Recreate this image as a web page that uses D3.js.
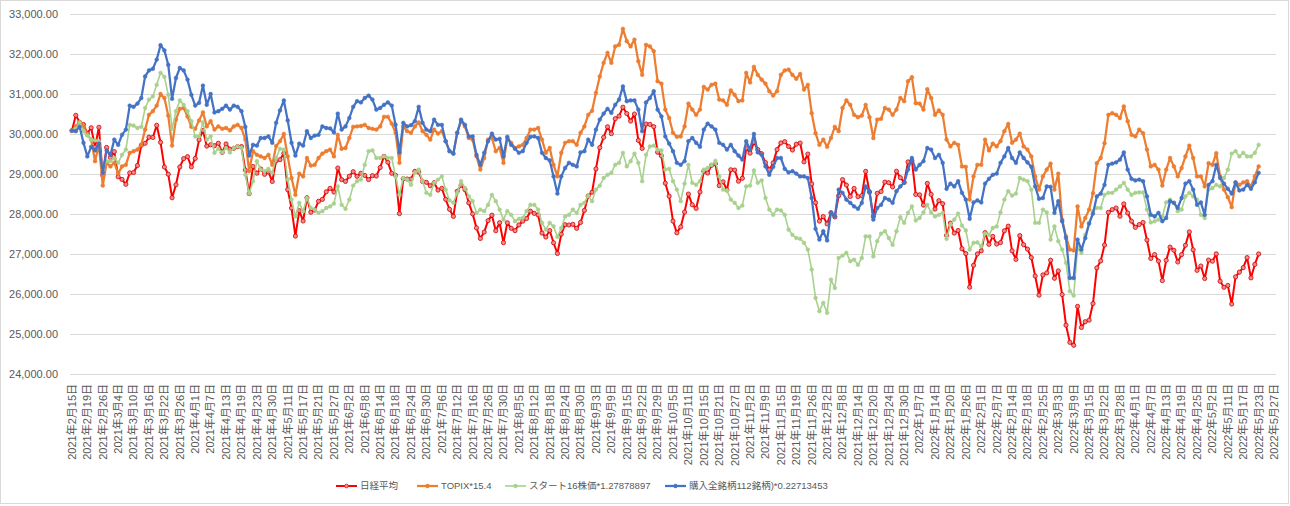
<!DOCTYPE html>
<html><head><meta charset="utf-8">
<script src="https://cdn.jsdelivr.net/npm/d3@7"></script>
<style>body{margin:0;background:#fff}svg{display:block}</style>
</head><body>
<svg id="c" width="1290" height="506"></svg>
<script>
// trading days (category axis)
const categories = [
"2021/2/15","2021/2/16","2021/2/17","2021/2/18","2021/2/19","2021/2/22","2021/2/24","2021/2/25","2021/2/26",
"2021/3/1","2021/3/2","2021/3/3","2021/3/4","2021/3/5","2021/3/8","2021/3/9","2021/3/10","2021/3/11","2021/3/12","2021/3/15","2021/3/16","2021/3/17","2021/3/18","2021/3/19","2021/3/22","2021/3/23","2021/3/24","2021/3/25","2021/3/26","2021/3/29","2021/3/30","2021/3/31",
"2021/4/1","2021/4/2","2021/4/5","2021/4/6","2021/4/7","2021/4/8","2021/4/9","2021/4/12","2021/4/13","2021/4/14","2021/4/15","2021/4/16","2021/4/19","2021/4/20","2021/4/21","2021/4/22","2021/4/23","2021/4/26","2021/4/27","2021/4/28","2021/4/30",
"2021/5/6","2021/5/7","2021/5/10","2021/5/11","2021/5/12","2021/5/13","2021/5/14","2021/5/17","2021/5/18","2021/5/19","2021/5/20","2021/5/21","2021/5/24","2021/5/25","2021/5/26","2021/5/27","2021/5/28","2021/5/31",
"2021/6/1","2021/6/2","2021/6/3","2021/6/4","2021/6/7","2021/6/8","2021/6/9","2021/6/10","2021/6/11","2021/6/14","2021/6/15","2021/6/16","2021/6/17","2021/6/18","2021/6/21","2021/6/22","2021/6/23","2021/6/24","2021/6/25","2021/6/28","2021/6/29","2021/6/30",
"2021/7/1","2021/7/2","2021/7/5","2021/7/6","2021/7/7","2021/7/8","2021/7/9","2021/7/12","2021/7/13","2021/7/14","2021/7/15","2021/7/16","2021/7/19","2021/7/20","2021/7/21","2021/7/26","2021/7/27","2021/7/28","2021/7/29","2021/7/30",
"2021/8/2","2021/8/3","2021/8/4","2021/8/5","2021/8/6","2021/8/10","2021/8/11","2021/8/12","2021/8/13","2021/8/16","2021/8/17","2021/8/18","2021/8/19","2021/8/20","2021/8/23","2021/8/24","2021/8/25","2021/8/26","2021/8/27","2021/8/30","2021/8/31",
"2021/9/1","2021/9/2","2021/9/3","2021/9/6","2021/9/7","2021/9/8","2021/9/9","2021/9/10","2021/9/13","2021/9/14","2021/9/15","2021/9/16","2021/9/17","2021/9/21","2021/9/22","2021/9/24","2021/9/27","2021/9/28","2021/9/29","2021/9/30",
"2021/10/1","2021/10/4","2021/10/5","2021/10/6","2021/10/7","2021/10/8","2021/10/11","2021/10/12","2021/10/13","2021/10/14","2021/10/15","2021/10/18","2021/10/19","2021/10/20","2021/10/21","2021/10/22","2021/10/25","2021/10/26","2021/10/27","2021/10/28","2021/10/29",
"2021/11/1","2021/11/2","2021/11/4","2021/11/5","2021/11/8","2021/11/9","2021/11/10","2021/11/11","2021/11/12","2021/11/15","2021/11/16","2021/11/17","2021/11/18","2021/11/19","2021/11/22","2021/11/24","2021/11/25","2021/11/26","2021/11/29","2021/11/30",
"2021/12/1","2021/12/2","2021/12/3","2021/12/6","2021/12/7","2021/12/8","2021/12/9","2021/12/10","2021/12/13","2021/12/14","2021/12/15","2021/12/16","2021/12/17","2021/12/20","2021/12/21","2021/12/22","2021/12/23","2021/12/24","2021/12/27","2021/12/28","2021/12/29","2021/12/30",
"2022/1/4","2022/1/5","2022/1/6","2022/1/7","2022/1/11","2022/1/12","2022/1/13","2022/1/14","2022/1/17","2022/1/18","2022/1/19","2022/1/20","2022/1/21","2022/1/24","2022/1/25","2022/1/26","2022/1/27","2022/1/28","2022/1/31",
"2022/2/1","2022/2/2","2022/2/3","2022/2/4","2022/2/7","2022/2/8","2022/2/9","2022/2/10","2022/2/14","2022/2/15","2022/2/16","2022/2/17","2022/2/18","2022/2/21","2022/2/22","2022/2/24","2022/2/25","2022/2/28",
"2022/3/1","2022/3/2","2022/3/3","2022/3/4","2022/3/7","2022/3/8","2022/3/9","2022/3/10","2022/3/11","2022/3/14","2022/3/15","2022/3/16","2022/3/17","2022/3/18","2022/3/22","2022/3/23","2022/3/24","2022/3/25","2022/3/28","2022/3/29","2022/3/30","2022/3/31",
"2022/4/1","2022/4/4","2022/4/5","2022/4/6","2022/4/7","2022/4/8","2022/4/11","2022/4/12","2022/4/13","2022/4/14","2022/4/15","2022/4/18","2022/4/19","2022/4/20","2022/4/21","2022/4/22","2022/4/25","2022/4/26","2022/4/27","2022/4/28",
"2022/5/2","2022/5/6","2022/5/9","2022/5/10","2022/5/11","2022/5/12","2022/5/13","2022/5/16","2022/5/17","2022/5/18","2022/5/19","2022/5/20","2022/5/23","2022/5/24","2022/5/25","2022/5/26","2022/5/27"
];

const nikkei = [
30084,30468,30292,30236,30018,30156,29672,30168,28966,
29664,29408,29559,28930,28864,28743,29028,29037,29212,29718,29767,29921,29914,30217,29792,29174,28996,28406,28730,29177,29385,29433,29179,
29389,29854,30089,29697,29731,29709,29768,29539,29752,29621,29643,29683,29685,29100,28509,29188,29021,29126,28992,29054,28813,
29331,29358,29518,28609,28148,27448,28084,27825,28407,28044,28098,28318,28365,28554,28642,28549,29149,28860,
28814,28946,29058,28942,29019,28964,28861,28959,28949,29162,29441,29291,29018,28964,28011,28884,28875,28875,29066,29048,28813,28792,
28707,28783,28598,28643,28367,28118,27940,28569,28718,28608,28279,28003,27653,27388,27548,27833,27970,27582,27782,27284,
27781,27642,27584,27728,27820,27888,28071,28015,27977,27523,27424,27586,27281,27013,27494,27732,27725,27742,27641,27789,28090,
28451,28544,29128,29660,29916,30181,30008,30382,30447,30670,30512,30323,30500,29840,29639,30249,30240,30184,29544,29453,
28771,28445,27822,27529,27678,28049,28498,28231,28140,28551,29069,29025,29216,29256,28709,28805,28600,29106,29098,28820,28893,
29647,29521,29794,29612,29507,29285,29107,29278,29610,29777,29808,29688,29599,29746,29774,29303,29499,28752,28284,27822,
27936,27753,28030,27927,28456,28861,28725,28438,28640,28433,28460,29066,28546,27938,28518,28562,28798,28783,28676,29069,28907,28792,
29302,29332,28488,28479,28222,28766,28489,28124,28334,28257,27467,27773,27522,27588,27131,27011,26170,26717,27002,
27078,27534,27241,27440,27249,27285,27580,27696,27080,26865,27460,27233,27122,26911,26450,25971,26477,26527,
26845,26393,26577,25985,25221,24791,24718,25690,25163,25308,25346,25762,26653,26827,27224,28040,28110,28150,27944,28252,28027,27821,
27666,27736,27788,27350,26889,26986,26822,26335,26843,27172,27093,26800,26985,27218,27553,27105,26591,26700,26387,26848,
26819,27004,26319,26167,26214,25749,26428,26547,26660,26911,26403,26739,27002
];

const topix = [
30080,30190,30290,30190,29980,29860,29320,29730,28710,
29280,29190,29280,29010,29190,29230,29530,29570,29610,29730,30110,30480,30570,30710,31000,30900,30460,29710,30360,30630,30650,30440,30180,
30130,30340,30540,30190,30320,30110,30190,30130,30150,30090,30190,30230,30150,29860,29070,29570,29480,29440,29400,29480,29230,
29700,29820,30000,29440,28900,28480,29010,28940,29400,29210,29230,29400,29510,29570,29610,29440,29980,29630,
29650,29900,30180,30190,30200,30230,30150,30130,30110,30190,30430,30430,30260,30030,29280,30190,30070,30030,30190,30290,30070,29980,
29860,30110,30010,30070,29820,29570,29510,30030,30320,30190,29900,29860,29440,29110,29400,29860,29900,29570,29650,29280,
29900,29780,29650,29690,29730,29900,30110,30110,30150,29860,29530,29650,29230,28940,29530,29780,29820,29820,29730,30030,30190,
30480,30580,31030,31440,31780,32030,31780,32190,32230,32630,32320,32190,32360,31820,31480,32230,32190,32070,31320,31260,
30610,30400,30030,29930,29940,30190,30760,30610,30480,30610,31180,31110,31230,31260,30860,30840,30730,31090,30980,30820,30840,
31530,31290,31680,31480,31360,31260,31070,30960,31070,31480,31590,31610,31480,31380,31500,31110,31230,30520,30020,29730,
29860,29680,29900,30180,30070,30650,30840,30730,30480,30420,30460,30730,30420,29900,30360,30380,30650,30610,30480,30610,30900,30820,
31320,31420,30770,30760,30610,31120,30900,30480,30590,30480,29860,29690,29780,29730,29190,29180,28360,28940,29230,
29230,29860,29590,29760,29690,29820,30070,30250,29780,29860,30010,29690,29610,29440,28940,28610,28940,29110,
29260,28610,29010,27860,27440,27110,27090,28190,27690,27900,28110,28520,29270,29400,29770,30480,30520,30480,30400,30690,30320,29980,
29940,30110,30020,29610,29190,29230,29110,28710,29110,29400,29190,28940,29150,29440,29710,29400,28940,28940,28690,29270,
29230,29520,28940,28610,28420,28170,28790,28730,28790,28820,28690,28940,29190
];

const start16 = [
30084,30130,30290,30070,29960,29860,29840,29820,29110,
29320,29320,29400,29280,29480,29610,30230,30210,30150,30180,30650,30860,30940,31230,31530,31430,30980,30130,30570,30840,30730,30570,30320,
29940,29940,30290,29860,29940,29530,29630,29540,29650,29540,29650,29690,29650,28980,28510,28820,29320,29110,29070,29130,29030,
29400,29630,29610,28860,28360,27940,28280,28070,28400,28150,28110,28030,28070,28150,28190,28260,28690,28230,
28130,28360,28710,28820,28860,29230,29570,29590,29400,29400,29440,29400,29400,28940,28480,28900,28860,28730,29030,29110,28820,28530,
28480,28780,28860,28940,28610,28340,28280,28530,28820,28650,28440,28320,28030,28110,28070,28230,28480,28320,28110,27860,
28070,27980,27820,27880,27900,28070,28230,28230,28110,27780,27610,27780,27690,27430,27650,27940,27980,28110,28030,28230,28280,
28460,28320,28610,28710,28900,28980,29030,29230,29280,29530,29190,29320,29510,29280,28820,29480,29690,29710,29610,29590,
29110,29130,28820,28610,28320,28760,29230,28780,28730,28820,29110,29150,29230,29330,28940,28610,28590,28360,28280,28150,28210,
28690,28710,29090,28780,28840,28400,28110,27980,28110,28090,27980,27610,27480,27400,27380,27280,27110,26610,25900,25570,
25780,25530,26360,26150,26900,26960,27030,26820,26860,26730,26900,27440,27440,26940,27320,27510,27570,27400,27230,27570,27920,27780,
28030,28190,27840,27900,28040,28230,28040,27940,27980,28030,27380,27730,27860,28010,27710,27590,27110,27280,27290,
27190,27510,27480,27650,27690,28040,28360,28570,28460,28510,28900,28860,28820,28610,27780,27780,28110,28040,
27360,27690,27320,27110,26780,26070,25960,27150,27030,27480,27780,28070,28150,28150,28480,28530,28530,28610,28690,28780,28610,28480,
28530,28540,28540,28110,27790,27820,27860,27940,28290,28360,28280,28070,28110,28440,28530,28440,28360,27980,27900,28610,
28650,28730,28690,28900,29110,29510,29570,29440,29530,29440,29440,29530,29730
];

const portfolio112 = [
30084,30070,30180,29780,29440,29680,29590,29760,29030,
29590,29480,29860,29730,29980,30110,30710,30680,30760,30900,31440,31590,31630,31860,32220,32090,31730,30880,31400,31650,31590,31360,30980,
30710,30780,31210,30730,31000,30540,30570,30630,30710,30610,30710,30680,30570,30180,29460,29730,29710,29900,29900,29940,29780,
30280,30590,30840,30340,29780,29460,29760,29710,30070,29900,29960,29980,30190,30150,30140,30040,30510,30110,
30190,30400,30680,30820,30790,30900,30960,30860,30610,30650,30730,30790,30710,30230,29540,30280,30190,30220,30320,30680,30280,30110,
30070,30360,30230,30230,29820,29570,29510,30030,30360,30230,29940,29940,29480,29230,29530,29820,30010,29860,29880,29440,
29930,29730,29630,29530,29570,29780,29930,29940,29900,29530,29400,29340,28940,28510,28940,29150,29280,29230,29190,29540,29570,
29860,29730,30110,30360,30510,30630,30530,30730,30860,31190,30820,30840,30840,30610,30070,30790,30900,31070,30610,30440,
29940,29760,29570,29280,29230,29320,29820,29900,29780,29680,30110,30260,30190,30110,29780,29730,29610,29730,29570,29460,29360,
29820,29610,30000,29540,29480,29190,28980,29180,29400,29400,29130,29040,29070,29010,28940,28940,28900,28400,27630,27360,
27570,27340,28040,27940,28610,28530,28360,28280,28190,28130,28280,28690,28570,27860,28150,28230,28400,28360,28280,28570,28690,28780,
29110,29400,29110,29230,29320,29650,29610,29400,29480,29280,28630,28760,28690,28820,28530,28360,27880,28290,28340,
28290,28760,28880,28980,29010,29280,29440,29650,29400,29280,29540,29400,29290,29180,28690,28380,28400,28690,
28680,28030,28320,27820,27400,26400,26400,27360,27110,27400,27760,28010,28440,28510,28730,29230,29260,29290,29360,29540,29110,28880,
28840,28860,28820,28440,27980,27940,28030,27820,27900,28320,28280,28150,28400,28760,28820,28610,28230,28290,27980,28730,
28820,29230,28900,28760,28630,28510,28790,28590,28610,28730,28630,28790,29030
];

const seriesNames = ["日経平均","TOPIX*15.4","スタート16株価*1.27878897","購入全銘柄112銘柄)*0.22713453"];
const seriesColors = ["#FF0000","#ED7D31","#A9D18E","#4472C4"];
const yTicks = [24000,25000,26000,27000,28000,29000,30000,31000,32000,33000];

const svg = d3.select("#c");
const W = 1290, H = 506;
svg.append("rect").attr("x",0.5).attr("y",0.5).attr("width",W-2).attr("height",H-3)
  .attr("fill","#fff").attr("stroke","#d9d9d9");

const plot = {left:70, right:1276, top:14, bottom:374};
const x = d3.scaleBand().domain(categories).range([plot.left, plot.right]).padding(0);
const y = d3.scaleLinear().domain([24000,33000]).range([plot.bottom, plot.top]);
const cx = c => x(c) + x.bandwidth()/2;

// gridlines
svg.append("g").selectAll("line").data(yTicks).join("line")
  .attr("x1",plot.left).attr("x2",plot.right)
  .attr("y1",d=>Math.round(y(d))+0.5).attr("y2",d=>Math.round(y(d))+0.5)
  .attr("stroke","#d9d9d9").attr("stroke-width",1);

// y axis labels
const yAxis = d3.axisLeft(y).tickValues(yTicks).tickFormat(d3.format(",.2f")).tickSize(0).tickPadding(12);
const gy = svg.append("g").attr("transform",`translate(${plot.left},0)`).call(yAxis);
gy.select(".domain").remove();
gy.selectAll("text").attr("fill","#595959").style("font-family","'Liberation Sans',Arial,sans-serif").style("font-size","11px");

// x axis labels
const toJa = s => { const p = s.split("/"); return `${p[0]}年${p[1]}月${p[2]}日`; };
const xAxis = d3.axisBottom(x).tickValues(categories.filter((d,i)=>i%4===0)).tickFormat(toJa).tickSize(0).tickPadding(0);
const gx = svg.append("g").attr("transform",`translate(0,${plot.bottom})`).call(xAxis);
gx.select(".domain").attr("stroke","#d9d9d9").attr("d",`M${plot.left},0.5H${plot.right}`);
gx.selectAll("text")
  .attr("fill","#595959")
  .style("font-family","'Liberation Sans',Arial,'Noto Sans CJK JP',sans-serif").style("font-size","11px")
  .attr("text-anchor","end").attr("transform","rotate(-90)")
  .attr("x",-10).attr("y",0).attr("dy","0.35em");

// series
const allSeries = [nikkei, topix, start16, portfolio112];
const widths = [2, 2.25, 1.6, 2.25];
const line = d3.line().x((d,i)=>cx(categories[i])).y(d=>y(d));
allSeries.forEach((vals,si)=>{
  const g = svg.append("g");
  g.append("path").datum(vals).attr("d",line).attr("fill","none")
    .attr("stroke",seriesColors[si]).attr("stroke-width",widths[si]).attr("stroke-linejoin","round");
  g.selectAll("circle").data(vals).join("circle")
    .attr("cx",(d,i)=>cx(categories[i])).attr("cy",d=>y(d))
    .attr("r", si===0 ? 2.1 : 1.9)
    .attr("fill", si===0 ? "#f08a8a" : seriesColors[si])
    .attr("stroke", si===0 ? "#d40000" : seriesColors[si])
    .attr("stroke-width", si===0 ? 0.8 : 0.5);
});

// legend
const legendX = [336, 417, 505, 665];
const lg = svg.append("g");
seriesNames.forEach((n,si)=>{
  const g = lg.append("g").attr("transform",`translate(${legendX[si]},486)`);
  g.append("line").attr("x1",0).attr("x2",21).attr("y1",0).attr("y2",0)
    .attr("stroke",seriesColors[si]).attr("stroke-width",widths[si]);
  g.append("circle").attr("cx",10.5).attr("cy",0).attr("r",1.9)
    .attr("fill", si===0 ? "#f08a8a" : seriesColors[si]).attr("stroke", si===0 ? "#d40000":seriesColors[si]).attr("stroke-width",0.6);
  g.append("text").attr("x",24).attr("y",0).attr("dy","0.35em").text(n)
    .attr("fill","#595959").style("font-family","'Liberation Sans',Arial,'Noto Sans CJK JP',sans-serif").style("font-size","9.5px");
});
</script>
</body></html>
